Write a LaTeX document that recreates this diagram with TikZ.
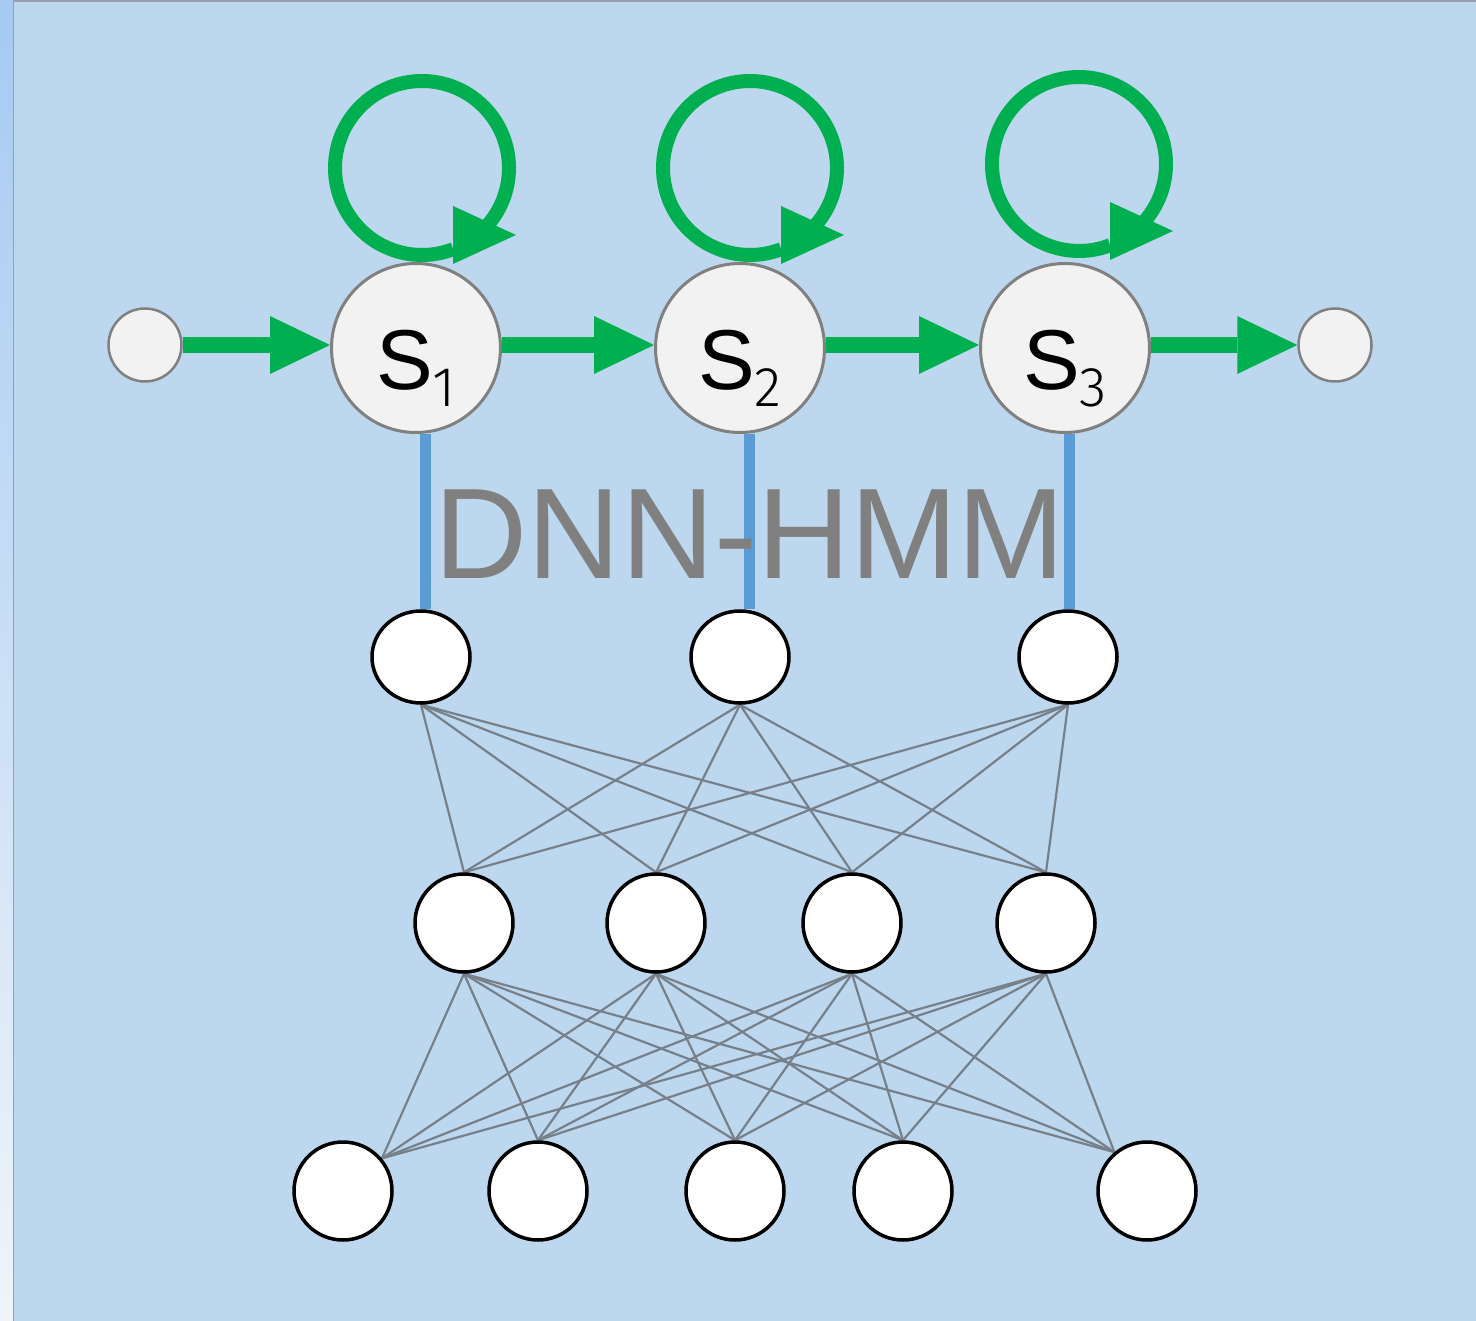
\documentclass[tikz,border=0pt]{standalone}
\usepackage{fontspec}
\setmainfont{Liberation Sans}
\newfontfamily\subfont{Fira Sans}[UprightFont={* Light}]
\usetikzlibrary{arrows.meta,shapes.geometric,calc}

\definecolor{bgblue}{RGB}{189,215,238}
\definecolor{stripTop}{RGB}{166,202,242}
\definecolor{stripBot}{RGB}{240,244,250}
\definecolor{frameGrey}{RGB}{150,160,172}
\definecolor{hmmgreen}{RGB}{0,176,80}
\definecolor{linkblue}{RGB}{91,155,213}
\definecolor{stategrey}{RGB}{128,128,128}
\definecolor{statefill}{RGB}{242,242,242}
\definecolor{weightgrey}{RGB}{118,128,138}
\definecolor{titlegrey}{RGB}{128,128,128}

\pgfdeclarelayer{back}
\pgfdeclarelayer{edges}
\pgfsetlayers{back,edges,main}

\begin{document}
\begin{tikzpicture}[x=1pt,y=-1pt,
  state/.style={circle,draw=stategrey,line width=3pt,fill=statefill,
    minimum size=169pt,inner sep=0pt,font=\fontsize{85}{85}\selectfont},
  endpoint/.style={circle,draw=stategrey,line width=2.5pt,fill=statefill,
    minimum size=73pt,inner sep=0pt},
  neuron/.style={ellipse,draw=black,line width=3.5pt,fill=white,
    minimum width=98pt,minimum height=98pt,inner sep=0pt},
  trans/.style={draw=hmmgreen,line width=16pt,
    -{Triangle[length=60pt 0,width=58pt 0,line width=0pt]}},
  selfloop/.style={draw=hmmgreen,line width=14pt},
  loophead/.style={fill=hmmgreen},
  emit/.style={draw=linkblue,line width=11pt},
  weight/.style={draw=weightgrey,line width=2.2pt},
]
\useasboundingbox (0,0) rectangle (1476,1321);

% slide background, side strip and frame
\begin{pgfonlayer}{back}
  \fill[bgblue] (0,0) rectangle (1476,1321);
  \shade[top color=stripTop,bottom color=stripBot] (0,0) rectangle (13,1321);
  \draw[frameGrey,line width=1.5pt] (13.5,0) -- (13.5,1321);
  \draw[frameGrey,line width=1.5pt] (13,1) -- (1476,1);
\end{pgfonlayer}

% HMM chain
\newcommand{\stlabel}[1]{\raisebox{-42pt}[0pt][0pt]{S\kern-1pt\raisebox{-17pt}{\subfont\fontsize{56}{56}\selectfont #1}}}
\node[endpoint] (p0) at (145,345) {};
\node[state] (s1) at (416,348) {\stlabel{1}};
\node[state] (s2) at (740,348) {\stlabel{2}};
\node[state] (s3) at (1065,348) {\stlabel{3}};
\node[endpoint] (p4) at (1335,345) {};

\draw[trans] (p0) -- ([yshift=3pt]s1.west);
\draw[trans] ([yshift=3pt]s1.east) -- ([yshift=3pt]s2.west);
\draw[trans] ([yshift=3pt]s2.east) -- ([yshift=3pt]s3.west);
\draw[trans] ([yshift=3pt]s3.east) -- (p4);

% self transitions
\coordinate (c1) at ($(s1)+(6,-180)$);
\coordinate (c2) at ($(s2)+(10,-180)$);
\coordinate (c3) at ($(s3)+(14,-184)$);
\foreach \c in {c1,c2,c3}{
  \draw[selfloop] (\c) ++(42:87) arc[start angle=42,end angle=-291,radius=87];
  \fill[loophead] ($(\c)+(31,38)$) -- ($(\c)+(31,96)$) -- ($(\c)+(94,67)$) -- cycle;
}

% DNN layers
\node[neuron,minimum height=92pt] (t1) at (421,657) {};
\node[neuron,minimum height=92pt] (t2) at (740,657) {};
\node[neuron,minimum height=92pt] (t3) at (1068,657) {};

\node[neuron] (m1) at (464,923) {};
\node[neuron] (m2) at (656,923) {};
\node[neuron] (m3) at (852,923) {};
\node[neuron] (m4) at (1046,923) {};

\node[neuron] (b1) at (343,1191) {};
\node[neuron] (b2) at (538,1191) {};
\node[neuron] (b3) at (735,1191) {};
\node[neuron] (b4) at (903,1191) {};
\node[neuron] (b5) at (1147,1191) {};

\begin{pgfonlayer}{edges}
  % emission links from states to output units
  \draw[emit] ([xshift=9pt]s1.south) -- ([xshift=4pt]t1.north);
  \draw[emit] ([xshift=9pt]s2.south) -- ([xshift=9pt]t2.north);
  \draw[emit] ([xshift=4pt]s3.south) -- ([xshift=1pt]t3.north);
  % full connections output <- hidden
  \foreach \i in {1,2,3}
    \foreach \j in {1,2,3,4}
      \draw[weight] (t\i.south) -- (m\j.north);
  % full connections hidden <- input
  \foreach \j in {1,2,3,4}{
    \draw[weight] (m\j.south) -- (b1.40);
    \draw[weight] (m\j.south) -- (b2.north);
    \draw[weight] (m\j.south) -- (b3.north);
    \draw[weight] (m\j.south) -- (b4.north);
    \draw[weight] (m\j.south) -- (b5.130);
  }
\end{pgfonlayer}

% caption
\node[anchor=base,text=titlegrey,inner sep=0pt,font=\fontsize{129}{129}\selectfont]
  (title) at (750,578) {DNN-HMM};
\end{tikzpicture}
\end{document}
